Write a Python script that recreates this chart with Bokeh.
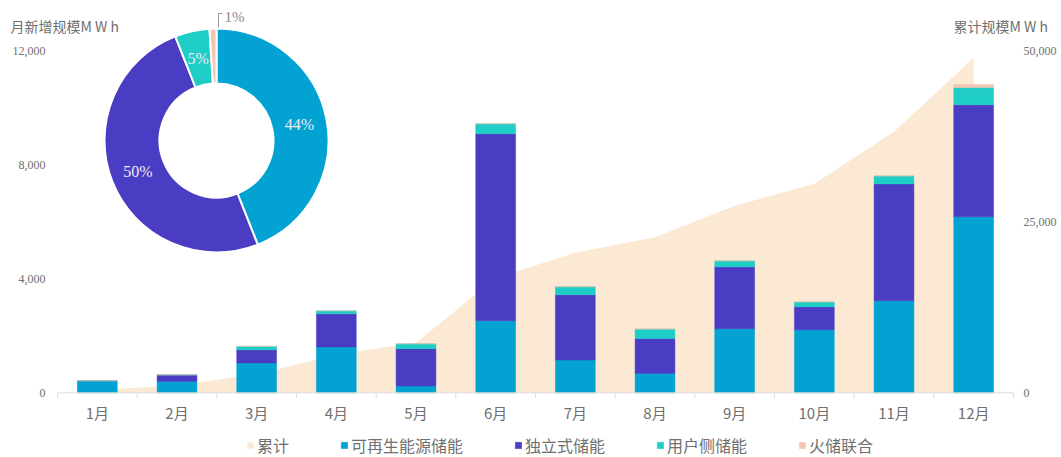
import numpy as np
from bokeh.plotting import figure
from bokeh.models import Range1d, Legend, LegendItem, ColumnDataSource
from bokeh.core.properties import value
from bokeh.embed import file_html
from bokeh.resources import INLINE

# ---------------- data ----------------
months = ["1月", "2月", "3月", "4月", "5月", "6月", "7月", "8月", "9月", "10月", "11月", "12月"]
renewable = [420, 400, 1050, 1610, 240, 2530, 1150, 680, 2250, 2210, 3230, 6175]
independent = [0, 230, 460, 1160, 1310, 6560, 2290, 1225, 2170, 810, 4100, 3930]
user_side = [0, 0, 120, 110, 170, 350, 280, 330, 210, 170, 280, 605]
thermal = [0, 0, 0, 0, 0, 0, 0, 0, 0, 0, 0, 110]
cumulative = [420, 1050, 2730, 5610, 7330, 16770, 20490, 22725, 27355, 30545, 38155, 48975]

series_names = ["可再生能源储能", "独立式储能", "用户侧储能", "火储联合"]
pie_shares = [44, 50, 5, 1]
left_ticks = [0, 4000, 8000, 12000]
right_ticks = [0, 25000, 50000]
left_title = "月新增规模M W h"
right_title = "累计规模M W h"

# ---------------- style ----------------
C_AREA = "#FCE9D3"
C_REN = "#02A3D3"
C_IND = "#4A3DC3"
C_USER = "#1ECEC6"
C_THERM = "#F2C7B2"
GREY = "#6f6f6f"
AXIS_C = "#dcdcdc"
CJK = "Noto Sans CJK SC"
SERIF = "Liberation Serif"

W, H = 1061, 457
FL, FR, FB = 57, 1013, 392.3          # plot-area edges (px); 0 line at FB
N = len(months)
UNIT = (FR - FL) / N                  # px per category
PX_PER_L = (FB - 50.3) / 12000        # 12,000 sits at y=50.3
K_R = 50000 / 12000                   # right / left scale ratio


def dx(px):
    return (px - FL) / UNIT


def dy(py):
    return (FB - py) / PX_PER_L


p = figure(width=W, height=H, x_range=Range1d(dx(0), dx(W)),
           y_range=Range1d(dy(H), dy(0)),
           output_backend="svg", toolbar_location=None,
           min_border=0, min_border_left=0, min_border_right=0,
           min_border_top=0, min_border_bottom=0)
p.extra_y_ranges = {"right": Range1d(dy(H) * K_R, dy(0) * K_R)}
p.axis.visible = False
p.grid.visible = False
p.outline_line_color = None
p.background_fill_color = "white"
p.border_fill_color = "white"

centers = [i + 0.5 for i in range(N)]

# cumulative area
area = p.varea(x=centers, y1=[0] * N, y2=cumulative, y_range_name="right",
               fill_color=C_AREA)

# stacked bars
src = ColumnDataSource(dict(x=centers, renewable=renewable, independent=independent,
                            user=user_side, thermal=thermal))
bar_colors = [C_REN, C_IND, C_USER, C_THERM]
bars = p.vbar_stack(["renewable", "independent", "user", "thermal"], x="x", width=0.5,
                    source=src, fill_color=bar_colors, line_color=bar_colors,
                    line_width=0.5)

# ---------------- axes (drawn through the plot's scales) ----------------
p.segment(x0=[0], y0=[0], x1=[N], y1=[0], line_color=AXIS_C, line_width=1)
bounds = list(range(N + 1))
p.segment(x0=bounds, y0=[0] * len(bounds), x1=bounds, y1=[dy(FB + 5)] * len(bounds),
          line_color=AXIS_C, line_width=1)
p.text(x=centers, y=[dy(412)] * N, text=months, text_align="center",
       text_baseline="middle", text_font=value(CJK), text_font_size="15px",
       text_color=GREY)
p.text(x=[dx(45)] * len(left_ticks), y=left_ticks,
       text=[f"{v:,}" for v in left_ticks], text_align="right",
       text_baseline="middle", text_font=value(SERIF), text_font_size="12px",
       text_color=GREY)
p.text(x=[dx(1023)] * len(right_ticks), y=right_ticks, y_range_name="right",
       text=[f"{v:,}" for v in right_ticks], text_align="left",
       text_baseline="middle", text_font=value(SERIF), text_font_size="12px",
       text_color=GREY)
p.text(x=[dx(10), dx(953)], y=[dy(25), dy(25)], text=[left_title, right_title],
       text_align="left", text_baseline="middle", text_font=value(CJK),
       text_font_size="14px", text_color=GREY)

# ---------------- donut ----------------
PCX, PCY, R_OUT, R_IN = 216, 140, 112, 57
cum = np.concatenate([[0], np.cumsum(pie_shares)])
start = np.pi / 2 - 2 * np.pi * cum[:-1] / 100
end = np.pi / 2 - 2 * np.pi * cum[1:] / 100
p.annular_wedge(x=dx(PCX), y=dy(PCY), inner_radius=R_IN, outer_radius=R_OUT,
                inner_radius_units="screen", outer_radius_units="screen",
                start_angle=start, end_angle=end, direction="clock",
                fill_color=bar_colors, line_color="white", line_width=2)

mid = (start + end) / 2
r_lab = (R_IN + R_OUT) / 2
lab_x = [dx(PCX + r_lab * np.cos(a)) for a in mid[:3]]
lab_y = [dy(PCY - r_lab * np.sin(a)) for a in mid[:3]]
p.text(x=lab_x, y=lab_y, text=[f"{s}%" for s in pie_shares[:3]], text_align="center",
       text_baseline="middle", text_font=value(SERIF), text_font_size="16px",
       text_color="#ececec")

# leader for the smallest slice
p.line(x=[dx(218), dx(218), dx(222)], y=[dy(27), dy(13), dy(13)],
       line_color="#9a9a9a", line_width=1)
p.text(x=[dx(224)], y=[dy(16)], text=[f"{pie_shares[3]}%"], text_align="left",
       text_baseline="middle", text_font=value(SERIF), text_font_size="15px",
       text_color="#8a8a8a")

# ---------------- legend ----------------
items = [LegendItem(label="累计", renderers=[area])]
for name, r in zip(series_names, bars):
    items.append(LegendItem(label=name, renderers=[r]))
legend = Legend(items=items, orientation="horizontal", location=(246, 0),
                glyph_width=8, glyph_height=8, label_standoff=3, spacing=51,
                padding=0, margin=0, border_line_color=None,
                background_fill_alpha=0, label_text_font=CJK,
                label_text_font_size="16px", label_text_color=GREY, label_height=20)
p.add_layout(legend)

open("out.html", "w").write(file_html(p, INLINE))
